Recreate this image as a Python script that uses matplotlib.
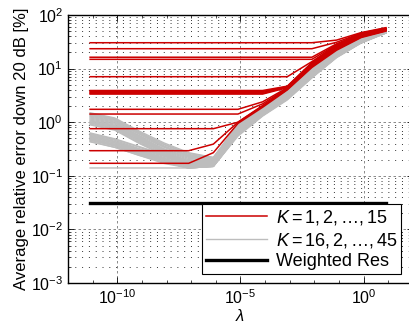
import matplotlib
matplotlib.use("Agg")
import matplotlib.pyplot as plt
from matplotlib.ticker import FixedLocator, NullFormatter, LogFormatterSciNotation

plt.rcParams['font.family'] = ['Liberation Sans', 'DejaVu Sans']
plt.rcParams['mathtext.fontset'] = 'custom'
plt.rcParams['mathtext.rm'] = 'Liberation Sans'
plt.rcParams['mathtext.it'] = 'Liberation Sans:italic'

# regularisation parameter values
lam = [7.9e-12, 7.9e-11, 7.9e-10, 7.9e-9, 7.9e-8, 7.9e-7, 7.9e-6,
       7.9e-5, 7.9e-4, 7.9e-3, 7.9e-2, 0.79, 7.9]

# K = 1..15 (red)
red_lines = [
    [0.171, 0.171, 0.171, 0.171, 0.171, 0.27, 0.95, 1.9, 4.0, 10.5, 22, 38, 50],
    [0.294, 0.294, 0.294, 0.294, 0.294, 0.39, 1.0, 2.0, 4.1, 11, 23, 39, 51],
    [0.757, 0.757, 0.757, 0.757, 0.757, 0.757, 1.0, 2.05, 4.2, 11, 23.5, 40, 51],
    [1.42, 1.42, 1.42, 1.42, 1.42, 1.42, 1.42, 2.2, 4.3, 11.5, 24, 40, 52],
    [1.74, 1.74, 1.74, 1.74, 1.74, 1.74, 1.74, 2.4, 4.4, 11.5, 24.5, 41, 52],
    [3.35, 3.35, 3.35, 3.35, 3.35, 3.35, 3.35, 3.35, 4.4, 12, 25, 42, 53],
    [3.45, 3.45, 3.45, 3.45, 3.45, 3.45, 3.45, 3.45, 4.5, 12, 25.5, 42, 53],
    [3.6, 3.6, 3.6, 3.6, 3.6, 3.6, 3.6, 3.6, 4.55, 12.5, 26, 43, 54],
    [3.75, 3.75, 3.75, 3.75, 3.75, 3.75, 3.75, 3.75, 4.6, 12.5, 26.5, 43, 54],
    [3.9, 3.9, 3.9, 3.9, 3.9, 3.9, 3.9, 3.9, 4.7, 13, 27, 44, 55],
    [7.06, 7.06, 7.06, 7.06, 7.06, 7.06, 7.06, 7.06, 7.06, 13.5, 27.5, 44, 55],
    [14.9, 14.9, 14.9, 14.9, 14.9, 14.9, 14.9, 14.9, 14.9, 14.9, 28, 45, 56],
    [16.3, 16.3, 16.3, 16.3, 16.3, 16.3, 16.3, 16.3, 16.3, 16.3, 29, 45, 56],
    [23.5, 23.5, 23.5, 23.5, 23.5, 23.5, 23.5, 23.5, 23.5, 23.5, 31, 46, 57],
    [30.4, 30.4, 30.4, 30.4, 30.4, 30.4, 30.4, 30.4, 30.4, 30.4, 34, 47, 58],
]

# K = 16..45 (grey)
gray_lines = [
    [1.50, 1.20, 0.68, 0.41, 0.27, 0.22, 0.90, 1.80, 3.8, 10.0, 21.0, 37.0, 50],
    [1.45, 1.16, 0.65, 0.39, 0.26, 0.22, 0.90, 1.80, 3.8, 10.0, 21.0, 37.0, 50],
    [1.40, 1.12, 0.63, 0.38, 0.25, 0.21, 0.90, 1.80, 3.8, 10.0, 21.0, 37.0, 50],
    [1.35, 1.08, 0.61, 0.36, 0.24, 0.21, 0.85, 1.74, 3.65, 9.5, 20.4, 36.1, 49.5],
    [1.30, 1.04, 0.59, 0.35, 0.23, 0.21, 0.85, 1.74, 3.65, 9.5, 20.4, 36.1, 49.5],
    [1.25, 1.00, 0.56, 0.34, 0.23, 0.20, 0.85, 1.74, 3.65, 9.5, 20.4, 36.1, 49.5],
    [1.20, 0.96, 0.54, 0.32, 0.22, 0.20, 0.81, 1.67, 3.5, 9.1, 19.7, 35.2, 49],
    [1.15, 0.92, 0.52, 0.31, 0.21, 0.20, 0.81, 1.67, 3.5, 9.1, 19.7, 35.2, 49],
    [1.10, 0.88, 0.50, 0.30, 0.20, 0.19, 0.81, 1.67, 3.5, 9.1, 19.7, 35.2, 49],
    [1.06, 0.85, 0.48, 0.29, 0.19, 0.19, 0.76, 1.61, 3.35, 8.6, 19.1, 34.3, 48.5],
    [1.02, 0.82, 0.46, 0.28, 0.18, 0.19, 0.76, 1.61, 3.35, 8.6, 19.1, 34.3, 48.5],
    [0.99, 0.79, 0.45, 0.27, 0.18, 0.18, 0.76, 1.61, 3.35, 8.6, 19.1, 34.3, 48.5],
    [0.96, 0.77, 0.43, 0.26, 0.17, 0.18, 0.72, 1.55, 3.2, 8.2, 18.5, 33.5, 48],
    [0.92, 0.74, 0.41, 0.25, 0.17, 0.18, 0.72, 1.55, 3.2, 8.2, 18.5, 33.5, 48],
    [0.89, 0.71, 0.40, 0.24, 0.16, 0.17, 0.72, 1.55, 3.2, 8.2, 18.5, 33.5, 48],
    [0.63, 0.49, 0.35, 0.25, 0.19, 0.17, 0.68, 1.48, 3.0, 7.8, 17.8, 32.5, 47.5],
    [0.61, 0.48, 0.34, 0.24, 0.18, 0.17, 0.68, 1.48, 3.0, 7.8, 17.8, 32.5, 47.5],
    [0.59, 0.46, 0.32, 0.24, 0.18, 0.17, 0.68, 1.48, 3.0, 7.8, 17.8, 32.5, 47.5],
    [0.57, 0.44, 0.31, 0.23, 0.17, 0.16, 0.68, 1.48, 3.0, 7.8, 17.8, 32.5, 47.5],
    [0.55, 0.43, 0.30, 0.22, 0.17, 0.16, 0.68, 1.48, 3.0, 7.8, 17.8, 32.5, 47.5],
    [0.53, 0.41, 0.29, 0.21, 0.16, 0.16, 0.63, 1.40, 2.8, 7.2, 17.0, 31.3, 46.8],
    [0.52, 0.41, 0.29, 0.21, 0.16, 0.16, 0.63, 1.40, 2.8, 7.2, 17.0, 31.3, 46.8],
    [0.50, 0.39, 0.28, 0.20, 0.15, 0.16, 0.63, 1.40, 2.8, 7.2, 17.0, 31.3, 46.8],
    [0.49, 0.38, 0.27, 0.20, 0.15, 0.16, 0.63, 1.40, 2.8, 7.2, 17.0, 31.3, 46.8],
    [0.48, 0.37, 0.26, 0.19, 0.15, 0.15, 0.63, 1.40, 2.8, 7.2, 17.0, 31.3, 46.8],
    [0.47, 0.37, 0.26, 0.19, 0.14, 0.15, 0.58, 1.34, 2.7, 6.9, 16.4, 30.5, 46.3],
    [0.46, 0.36, 0.25, 0.18, 0.14, 0.15, 0.58, 1.34, 2.7, 6.9, 16.4, 30.5, 46.3],
    [0.44, 0.34, 0.24, 0.18, 0.14, 0.15, 0.58, 1.34, 2.7, 6.9, 16.4, 30.5, 46.3],
    [0.43, 0.34, 0.24, 0.17, 0.14, 0.15, 0.58, 1.34, 2.7, 6.9, 16.4, 30.5, 46.3],
    [0.14, 0.14, 0.14, 0.14, 0.14, 0.15, 0.55, 1.30, 2.6, 6.7, 16.0, 30.0, 46.0],
]

weighted_res = [0.0315] * 13

legend_labels = [r'$K = 1, 2, \ldots, 15$', r'$K = 16, 2, \ldots, 45$', 'Weighted Res']
x_major = [1e-10, 1e-5, 1e0]
x_minor = [1e-12, 1e-11, 1e-9, 1e-8, 1e-7, 1e-6, 1e-4, 1e-3, 1e-2, 1e-1, 1e1, 1e2]
y_major = [1e-3, 1e-2, 1e-1, 1e0, 1e1, 1e2]

RED = '#cc0000'
GRAY = '#bdbdbd'

fig = plt.figure(figsize=(4.09, 3.26), dpi=100)
ax = fig.add_axes([68 / 409, 1 - 283 / 326, 345 / 409, 268 / 326])

for i, ys in enumerate(gray_lines):
    ax.plot(lam, ys, color=GRAY, lw=1.0, zorder=2,
            label=legend_labels[1] if i == 0 else None)
for i, ys in enumerate(red_lines):
    ax.plot(lam, ys, color=RED, lw=1.1, zorder=3,
            label=legend_labels[0] if i == 0 else None)
ax.plot(lam, weighted_res, color='black', lw=2.4, zorder=4, label=legend_labels[2])

ax.set_xscale('log')
ax.set_yscale('log')
ax.set_xlim(1e-12, 1e2)
ax.set_ylim(1e-3, 1e2)

ax.xaxis.set_major_locator(FixedLocator(x_major))
ax.xaxis.set_minor_locator(FixedLocator(x_minor))
ax.xaxis.set_major_formatter(LogFormatterSciNotation())
ax.xaxis.set_minor_formatter(NullFormatter())
ax.yaxis.set_major_locator(FixedLocator(y_major))
ax.yaxis.set_major_formatter(LogFormatterSciNotation())
ax.yaxis.set_minor_formatter(NullFormatter())

ax.tick_params(which='both', direction='in', top=True, right=True, labelsize=11.5)
ax.tick_params(which='major', length=4, width=0.6)
ax.tick_params(which='minor', length=2, width=0.5)

ax.grid(True, which='major', axis='both', color='#777777', lw=0.6, linestyle=(0, (3, 3)))
ax.grid(True, which='minor', axis='y', color='#333333', lw=0.7, linestyle=(0, (1, 6)))
ax.set_axisbelow(True)

for s in ax.spines.values():
    s.set_linewidth(1.0)

ax.set_ylabel('Average relative error down 20 dB [%]', fontsize=12, labelpad=1)
ax.set_xlabel(r'$\lambda$', fontsize=12, labelpad=1)

h, l = ax.get_legend_handles_labels()
order = [l.index(t) for t in legend_labels]
leg = ax.legend([h[i] for i in order], [l[i] for i in order],
                loc='lower right', bbox_to_anchor=(0.965, 0.034), borderaxespad=0,
                fontsize=13, fancybox=False, framealpha=1, edgecolor='black',
                handlelength=3.4, handletextpad=0.45, labelspacing=0.2,
                borderpad=0.2)
leg.get_frame().set_linewidth(0.8)
leg.set_zorder(10)

fig.savefig('out.png', dpi=100)
